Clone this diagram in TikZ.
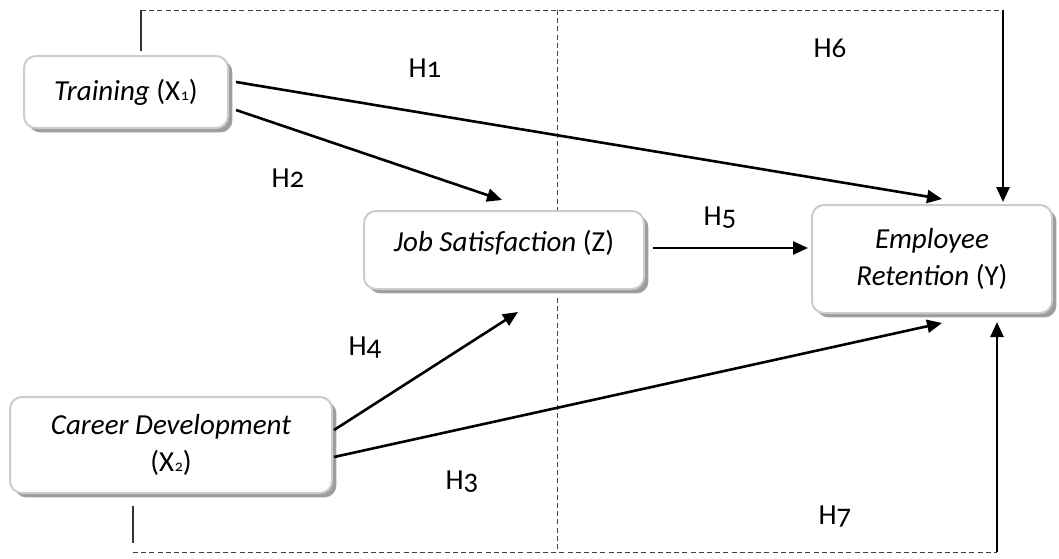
\documentclass[tikz,border=0pt]{standalone}
\usepackage{fontspec}
\setmainfont{Carlito}[Numbers=OldStyle]
\usepackage{tikz}
\usetikzlibrary{arrows.meta}
\usetikzlibrary{shadows}
\usetikzlibrary{calc}

\newcommand{\idx}[1]{\kern0.3pt{\fontsize{8}{8}\selectfont #1}}

\tikzset{
  var/.style={draw=black!20, line width=1pt, fill=white, rounded corners=6pt,
    align=center, drop shadow={shadow xshift=2.2pt, shadow yshift=-2.2pt, fill=black!38, opacity=1}},
  hyp/.style={-{Triangle[length=7.5pt,width=6.5pt]}, line width=1.3pt},
  guide/.style={black!75, line width=0.5pt, dash pattern=on 2.5pt off 1.6pt},
}

\begin{document}
\begin{tikzpicture}[x=0.5pt,y=-0.5pt, font=\fontsize{14.5}{18.5}\selectfont]
      \useasboundingbox (0,0) rectangle (1059,558);
      \node[var, minimum width=102pt, minimum height=36pt] (train) at (126,92) {\textit{Training} (X\idx{1})};
      \node[var, minimum width=140pt, minimum height=39pt, text depth=9pt] (job) at (504,250) {\textit{Job Satisfaction} (Z)};
      \node[var, minimum width=120pt, minimum height=54pt] (ret) at (932,259) {\textit{Employee}\\\textit{Retention} (Y)};
      \node[var, minimum width=161pt, minimum height=48pt] (car) at (171,445) {\textit{Career Development}\\(X\idx{2})};
      \coordinate (topl) at (141,10);
      \coordinate (topr) at (1003,10);
      \coordinate (botl) at (133,552);
      \coordinate (botr) at (997,552);
      \coordinate (midt) at (557,10);
      \coordinate (midb) at (557,552);
      % dashed frame
      \draw [guide] (topl) -- (topr);
      \draw [guide] (botl) -- (botr);
      \draw [guide] (midt) -- (midt |- job.north);
      \draw [guide] ($(midb |- job.south)+(0,8)$) -- (midb);
      \draw [black!80, line width=0.6pt] ($(train.north)+(15,-4)$) -- (topl);
      \draw [black!80, line width=0.6pt] ($(car.south)+(-38,12)$) -- ($(botl)+(0,-9)$);
      % hypotheses
      \draw [hyp] ($(train.east)+(7,-10)$) -- ($(ret.north)+(10,-5)$);
      \draw [hyp] ($(train.east)+(7,18)$) -- ($(job.north)+(-2,-10)$);
      \draw [hyp] ($(job.east)+(8,-2)$) -- ($(ret.west)+(-3,-11)$);
      \draw [hyp] ($(car.east)+(1,-15)$) -- ($(job.south)+(14,22)$);
      \draw [hyp] ($(car.east)+(1,12)$) -- ($(ret.south)+(10,9)$);
      \draw [hyp] (topr) -- ($(ret.north)+(71,-2)$);
      \draw [hyp] (botr) -- ($(ret.south)+(65,8)$);
      \node (h1) at (425,68) {H1};
      \node (h2) at (288,178) {H2};
      \node (h3) at (462,482) {H3};
      \node (h4) at (365,348) {H4};
      \node (h5) at (720,218) {H5};
      \node (h6) at (830,48) {H6};
      \node (h7) at (835,517) {H7};
    \end{tikzpicture}
\end{document}
